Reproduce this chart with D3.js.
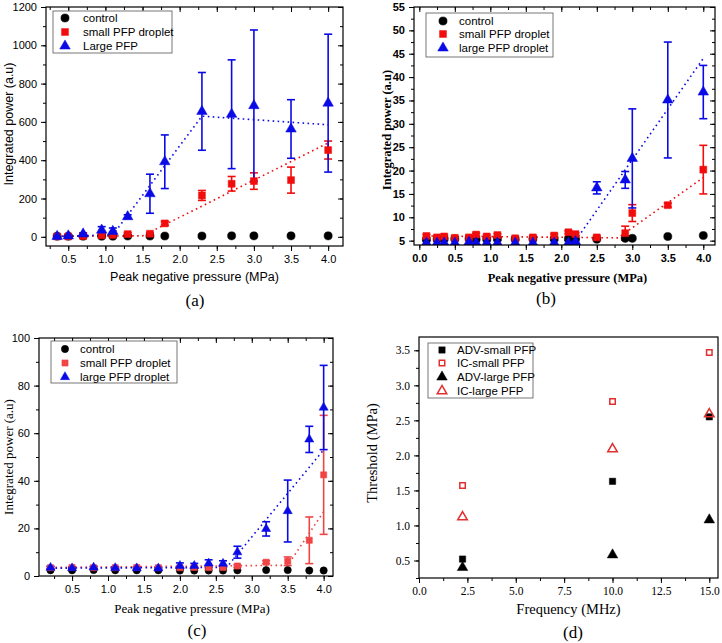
<!DOCTYPE html>
<html><head><meta charset="utf-8">
<script src="https://cdn.jsdelivr.net/npm/d3@7"></script>
<style>body{margin:0;background:#fff}</style>
</head><body>
<svg id="chart" width="722" height="643" xmlns="http://www.w3.org/2000/svg"></svg>
<script>
// ---------- Panel (a) ----------
const aX = [0.35,0.5,0.7,0.95,1.1,1.3,1.6,1.8,2.3,2.7,3.0,3.5,4.0];
const aControl = [3,3,3,3,3,4,4,4,4,5,5,5,5];
const aSmall = [2,2,4,8,10,14,16,70,216,277,291,296,453];
const aSmallErr = [2,2,2,3,3,8,6,10,26,38,43,68,47];
const aLarge = [2,5,15,35,28,105,225,392,655,640,685,563,698];
const aLargeErr = [4,4,6,18,18,10,102,140,203,284,395,153,360];
const aSmallFitX = [0.35,1.5,4.0];
const aSmallFitY = [3,5,490];
const aLargeFitX = [0.35,1.1,2.3,4.0];
const aLargeFitY = [2,10,630,585];
const aXTicks = [0.5,1.0,1.5,2.0,2.5,3.0,3.5,4.0];
const aYTicks = [0,200,400,600,800,1000,1200];
const aLegend = ["control","small PFP droplet","Large PFP"];

// ---------- Panel (b) ----------
const bX = [0.1,0.25,0.35,0.5,0.7,0.8,0.95,1.1,1.35,1.6,1.9,2.1,2.2,2.5,2.9,3.0,3.5,4.0];
const bControl = [5.2,5.3,5.4,5.4,5.4,5.3,5.3,5.4,5.3,5.4,5.4,5.4,5.3,5.3,5.5,5.5,5.9,6.1];
const bSmall = [6.0,5.7,5.9,5.6,5.7,6.3,5.9,6.2,5.5,5.7,6.1,6.8,6.4,5.7,6.6,10.9,12.6,20.2];
const bSmallErr = [0.3,0.3,0.3,0.3,0.3,0.3,0.3,0.3,0.3,0.3,0.3,0.3,0.3,0.3,1.5,1.8,0.4,5.2];
const bLarge = [4.5,4.5,4.5,4.5,4.7,4.5,4.5,4.5,4.5,4.5,4.5,4.5,4.8,16.3,18.0,22.6,35.1,36.8];
const bLargeErr = [0.5,0.5,0.5,0.5,0.6,0.5,0.5,0.5,0.5,0.5,0.5,0.5,0.5,1.3,1.8,10.6,12.4,5.7];
const bSmallFitX = [0.1,2.8,4.0];
const bSmallFitY = [6.0,5.6,18.5];
const bLargeFitX = [2.2,4.0];
const bLargeFitY = [5.0,44];
const bXTicks = [0.0,0.5,1.0,1.5,2.0,2.5,3.0,3.5,4.0];
const bYTicks = [5,10,15,20,25,30,35,40,45,50,55];
const bLegend = ["control","small PFP droplet","large PFP droplet"];

// ---------- Panel (c) ----------
const cX = [0.2,0.5,0.8,1.1,1.4,1.7,2.0,2.2,2.4,2.6,2.8,3.2,3.5,3.8,4.0];
const cControl = [2.4,2.4,2.5,2.4,2.4,2.4,2.3,2.3,2.3,2.3,2.4,2.5,2.5,2.3,2.3];
const cSmall = [3.5,3.6,3.5,3.5,3.6,3.5,3.5,3.6,3.5,3.6,4.2,5.8,6.2,15.0,42.5];
const cSmallErr = [0.3,0.3,0.3,0.3,0.3,0.3,0.3,0.3,0.3,0.3,0.5,0.6,1.8,9.8,25.0];
const cLarge = [3.5,3.3,3.6,3.4,3.3,3.2,4.3,4.3,5.3,5.2,10.0,19.8,27.3,57.4,70.8];
const cLargeErr = [0.6,0.4,0.5,0.4,0.4,0.4,1.2,1.0,1.5,1.2,2.5,3.0,13.0,5.5,17.7];
const cSmallFitX = [0.2,3.5,4.0];
const cSmallFitY = [3.6,4.5,27];
const cLargeFitX = [0.2,2.65,4.0];
const cLargeFitY = [3.3,3.6,53];
const cXTicks = [0.5,1.0,1.5,2.0,2.5,3.0,3.5,4.0];
const cYTicks = [0,20,40,60,80,100];
const cLegend = ["control","small PFP droplet","large PFP droplet"];

// ---------- Panel (d) ----------
const dFreq = [2.25,10,15];
const dAdvSmall = [0.52,1.63,2.55];
const dIcSmall = [1.57,2.77,3.47];
const dAdvLarge = [0.40,0.58,1.08];
const dIcLarge = [1.12,2.09,2.59];
const dXTicks = [0.0,2.5,5.0,7.5,10.0,12.5,15.0];
const dYTicks = [0.5,1.0,1.5,2.0,2.5,3.0,3.5];
const dLegend = ["ADV-small PFP","IC-small PFP","ADV-large PFP","IC-large PFP"];

const SANS = "'Liberation Sans', Arial, sans-serif";
const SERIF = "'Liberation Serif', 'Times New Roman', serif";
const svg = d3.select('#chart');
let clipId = 0;

function panel(c) {
  const g = svg.append('g');
  const x = d3.scaleLinear().domain(c.xDomain).range([c.left, c.right]);
  const y = d3.scaleLinear().domain(c.yDomain).range([c.bottom, c.top]);
  const id = 'clip' + (clipId++);
  g.append('clipPath').attr('id', id).append('rect')
    .attr('x', c.left).attr('y', c.top).attr('width', c.right - c.left).attr('height', c.bottom - c.top);

  const styleAxis = (sel, font, weight, size) => {
    sel.select('.domain').remove();
    sel.selectAll('line').attr('stroke', '#000').attr('stroke-width', 1);
    sel.selectAll('text').attr('font-family', font).attr('font-weight', weight)
      .attr('font-size', size).attr('fill', '#000');
  };
  const xMinor = d3.range(c.xDomain[0] - 1e-9, c.xDomain[1], c.xMinorStep)
    .map(v => Math.round(v / c.xMinorStep) * c.xMinorStep)
    .filter(v => v >= c.xDomain[0] && v <= c.xDomain[1]);
  const yMinor = d3.range(Math.ceil(c.yDomain[0] / c.yMinorStep) * c.yMinorStep, c.yDomain[1] + 1e-9, c.yMinorStep);

  // minor ticks
  g.append('g').attr('transform', `translate(0,${c.bottom})`)
    .call(d3.axisBottom(x).tickValues(xMinor).tickSize(3).tickFormat('')).call(s => styleAxis(s));
  g.append('g').attr('transform', `translate(${c.left},0)`)
    .call(d3.axisLeft(y).tickValues(yMinor).tickSize(3).tickFormat('')).call(s => styleAxis(s));
  // major ticks
  g.append('g').attr('transform', `translate(0,${c.bottom})`)
    .call(d3.axisBottom(x).tickValues(c.xTicks).tickSize(5).tickPadding(4).tickFormat(c.xFmt))
    .call(s => styleAxis(s, c.tickFont, c.tickWeight, c.tickSize));
  g.append('g').attr('transform', `translate(${c.left},0)`)
    .call(d3.axisLeft(y).tickValues(c.yTicks).tickSize(5).tickPadding(4).tickFormat(c.yFmt))
    .call(s => styleAxis(s, c.tickFont, c.tickWeight, c.tickSize));
  if (c.mirror) {
    g.append('g').attr('transform', `translate(${c.right},0)`)
      .call(d3.axisRight(y).tickValues(yMinor).tickSize(-3).tickFormat('')).call(s => styleAxis(s));
    g.append('g').attr('transform', `translate(${c.right},0)`)
      .call(d3.axisRight(y).tickValues(c.yTicks).tickSize(-5).tickFormat('')).call(s => styleAxis(s));
    g.append('g').attr('transform', `translate(0,${c.top})`)
      .call(d3.axisTop(x).tickValues(xMinor).tickSize(-3).tickFormat('')).call(s => styleAxis(s));
    g.append('g').attr('transform', `translate(0,${c.top})`)
      .call(d3.axisTop(x).tickValues(c.xTicks).tickSize(-5).tickFormat('')).call(s => styleAxis(s));
  }

  const plot = g.append('g').attr('clip-path', `url(#${id})`);
  const line = d3.line().x(d => x(d[0])).y(d => y(d[1]));
  c.fits.forEach(f => {
    plot.append('path').attr('d', line(f.x.map((v, i) => [v, f.y[i]])))
      .attr('fill', 'none').attr('stroke', f.color).attr('stroke-width', 1.6)
      .attr('stroke-dasharray', '1.6,3.4');
  });
  c.series.forEach(s => {
    if (s.err) {
      s.x.forEach((xv, i) => {
        const e = s.err[i];
        if (!e) return;
        const px = x(xv), y1 = y(s.y[i] + e), y0 = y(s.y[i] - e);
        plot.append('line').attr('x1', px).attr('x2', px).attr('y1', y1).attr('y2', y0)
          .attr('stroke', s.color).attr('stroke-width', 1.6);
        [y0, y1].forEach(yy => plot.append('line').attr('x1', px - 4).attr('x2', px + 4)
          .attr('y1', yy).attr('y2', yy).attr('stroke', s.color).attr('stroke-width', 1.6));
      });
    }
  });
  c.series.forEach(s => {
    const sym = d3.symbol().type(s.symbol).size(s.size);
    s.x.forEach((xv, i) => {
      plot.append('path').attr('d', sym())
        .attr('transform', `translate(${x(xv)},${y(s.y[i])})`)
        .attr('fill', s.open ? 'none' : s.color)
        .attr('stroke', s.color).attr('stroke-width', s.open ? 1.5 : 0.5);
    });
  });

  // frame
  g.append('rect').attr('x', c.left).attr('y', c.top).attr('width', c.right - c.left)
    .attr('height', c.bottom - c.top).attr('fill', 'none').attr('stroke', '#000').attr('stroke-width', 1.2);

  // legend
  const L = c.legend;
  g.append('rect').attr('x', L.x0).attr('y', L.y0).attr('width', L.x1 - L.x0).attr('height', L.y1 - L.y0)
    .attr('fill', '#fff').attr('stroke', '#555').attr('stroke-width', 0.8);
  L.labels.forEach((t, i) => {
    const s = c.series[i];
    const yy = L.rows[i];
    g.append('path').attr('d', d3.symbol().type(s.symbol).size(s.size)())
      .attr('transform', `translate(${L.symX},${yy})`)
      .attr('fill', s.open ? 'none' : s.color).attr('stroke', s.color).attr('stroke-width', s.open ? 1.5 : 0.5);
    g.append('text').attr('x', L.textX).attr('y', yy + 4).text(t)
      .attr('font-family', SANS).attr('font-size', 11.5).attr('fill', '#000');
  });

  // titles
  g.append('text').attr('x', (c.left + c.right) / 2 + c.xTitleDx).attr('y', c.xTitleY).text(c.xTitle)
    .attr('text-anchor', 'middle').attr('font-family', c.titleFont).attr('font-weight', c.titleWeight)
    .attr('font-size', c.titleSize).attr('fill', '#000');
  g.append('text').attr('transform', `translate(${c.yTitleX},${c.yTitleY}) rotate(-90)`).text(c.yTitle)
    .attr('text-anchor', 'middle').attr('font-family', c.titleFont).attr('font-weight', c.titleWeight)
    .attr('font-size', c.titleSize).attr('fill', '#000');
  g.append('text').attr('x', c.labelX).attr('y', c.labelY).text(c.label)
    .attr('text-anchor', 'middle').attr('font-family', SERIF).attr('font-size', 17).attr('fill', '#000');
}

const BLUE = '#0a0ae6', RED = '#f20d0d', BLACK = '#000';

panel({
  left: 46, right: 343, top: 7, bottom: 246,
  xDomain: [0.2, 4.2], yDomain: [-48, 1200],
  xTicks: aXTicks, yTicks: aYTicks, xMinorStep: 0.25, yMinorStep: 100,
  xFmt: d3.format('.1f'), yFmt: d3.format('d'),
  tickFont: SANS, tickWeight: 'normal', tickSize: 11,
  titleFont: SANS, titleWeight: 'normal', titleSize: 12.5,
  xTitle: 'Peak negative pressure (MPa)', xTitleY: 281, xTitleDx: 0,
  yTitle: 'Integrated power (a.u)', yTitleX: 13, yTitleY: 124,
  label: '(a)', labelX: 195, labelY: 306, mirror: true,
  fits: [{x: aSmallFitX, y: aSmallFitY, color: RED}, {x: aLargeFitX, y: aLargeFitY, color: BLUE}],
  series: [
    {x: aX, y: aControl, symbol: d3.symbolCircle, size: 52, color: BLACK},
    {x: aX, y: aSmall, err: aSmallErr, symbol: d3.symbolSquare, size: 48, color: RED},
    {x: aX, y: aLarge, err: aLargeErr, symbol: d3.symbolTriangle, size: 48, color: BLUE}
  ],
  legend: {x0: 53, x1: 172, y0: 11, y1: 53, rows: [18, 32, 46], symX: 65, textX: 83, labels: aLegend}
});

panel({
  left: 414, right: 715, top: 7, bottom: 245,
  xDomain: [-0.075, 4.165], yDomain: [4.07, 55],
  xTicks: bXTicks, yTicks: bYTicks, xMinorStep: 0.25, yMinorStep: 2.5,
  xFmt: d3.format('.1f'), yFmt: d3.format('d'),
  tickFont: SANS, tickWeight: 'bold', tickSize: 11,
  titleFont: SERIF, titleWeight: 'bold', titleSize: 12.5,
  xTitle: 'Peak negative pressure (MPa)', xTitleY: 282, xTitleDx: 3,
  yTitle: 'Integrated power (a.u)', yTitleX: 391, yTitleY: 130,
  label: '(b)', labelX: 546, labelY: 304, mirror: true,
  fits: [{x: bSmallFitX, y: bSmallFitY, color: RED}, {x: bLargeFitX, y: bLargeFitY, color: BLUE}],
  series: [
    {x: bX, y: bControl, symbol: d3.symbolCircle, size: 52, color: BLACK},
    {x: bX, y: bSmall, err: bSmallErr, symbol: d3.symbolSquare, size: 48, color: RED},
    {x: bX, y: bLarge, err: bLargeErr, symbol: d3.symbolTriangle, size: 48, color: BLUE}
  ],
  legend: {x0: 426, x1: 553, y0: 13, y1: 57, rows: [21, 34, 48], symX: 443, textX: 459, labels: bLegend}
});

panel({
  left: 39, right: 333, top: 338, bottom: 576,
  xDomain: [0.04, 4.13], yDomain: [0, 100],
  xTicks: cXTicks, yTicks: cYTicks, xMinorStep: 0.25, yMinorStep: 10,
  xFmt: d3.format('.1f'), yFmt: d3.format('d'),
  tickFont: SANS, tickWeight: 'normal', tickSize: 11,
  titleFont: SERIF, titleWeight: 'normal', titleSize: 13,
  xTitle: 'Peak negative pressure (MPa)', xTitleY: 613, xTitleDx: 6,
  yTitle: 'Integrated power (a.u)', yTitleX: 13, yTitleY: 457,
  label: '(c)', labelX: 197, labelY: 636, mirror: true,
  fits: [{x: cSmallFitX, y: cSmallFitY, color: '#f04545'}, {x: cLargeFitX, y: cLargeFitY, color: BLUE}],
  series: [
    {x: cX, y: cControl, symbol: d3.symbolCircle, size: 42, color: BLACK},
    {x: cX, y: cSmall, err: cSmallErr, symbol: d3.symbolSquare, size: 38, color: '#f04545'},
    {x: cX, y: cLarge, err: cLargeErr, symbol: d3.symbolTriangle, size: 36, color: BLUE}
  ],
  legend: {x0: 51, x1: 177, y0: 341, y1: 383, rows: [349, 363, 377], symX: 65, textX: 80, labels: cLegend}
});

panel({
  left: 419, right: 718, top: 337, bottom: 578,
  xDomain: [0, 15.45], yDomain: [0.25, 3.69],
  xTicks: dXTicks, yTicks: dYTicks, xMinorStep: 1.25, yMinorStep: 0.25,
  xFmt: d3.format('.1f'), yFmt: d3.format('.1f'),
  tickFont: SERIF, tickWeight: 'normal', tickSize: 11.5,
  titleFont: SERIF, titleWeight: 'normal', titleSize: 14.5,
  xTitle: 'Frequency (MHz)', xTitleY: 614, xTitleDx: 0,
  yTitle: 'Threshold (MPa)', yTitleX: 377, yTitleY: 453,
  label: '(d)', labelX: 573, labelY: 638, mirror: false,
  fits: [],
  series: [
    {x: dFreq, y: dAdvSmall, symbol: d3.symbolSquare, size: 40, color: BLACK},
    {x: dFreq, y: dIcSmall, symbol: d3.symbolSquare, size: 30, color: '#e03030', open: true},
    {x: dFreq, y: dAdvLarge, symbol: d3.symbolTriangle, size: 48, color: BLACK},
    {x: dFreq, y: dIcLarge, symbol: d3.symbolTriangle, size: 40, color: '#e03030', open: true}
  ],
  legend: {x0: 428, x1: 533, y0: 343, y1: 398, rows: [350, 363, 377, 391], symX: 442, textX: 457, labels: dLegend}
});
</script>
</body></html>
